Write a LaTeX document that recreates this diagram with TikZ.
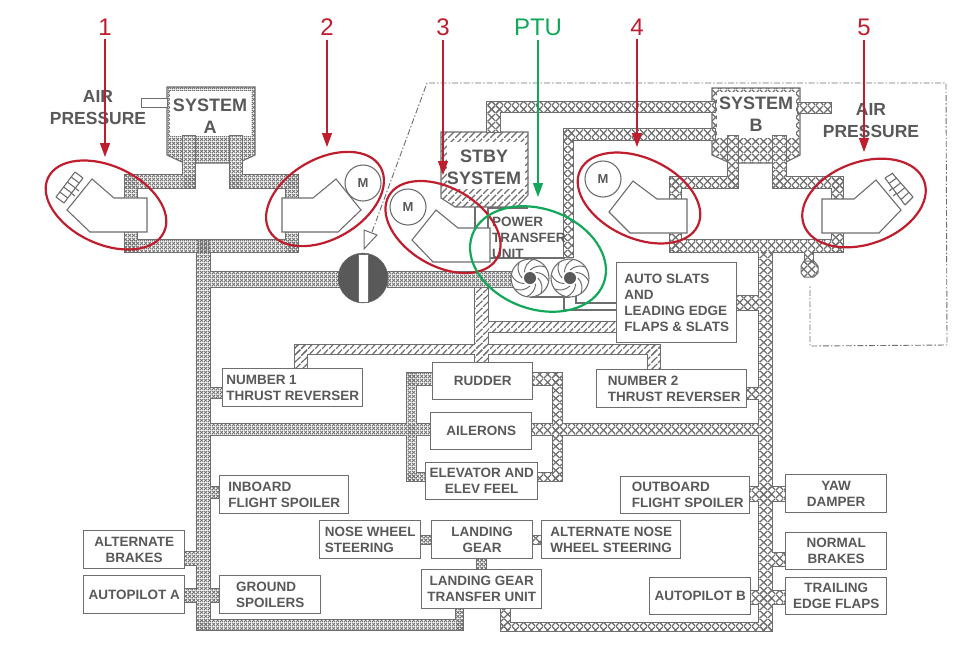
\documentclass[tikz,border=0pt]{standalone}
\usepackage{fontspec}
\setmainfont{Liberation Sans}
\usetikzlibrary{patterns,shapes.geometric,arrows.meta,calc}
\definecolor{ink}{HTML}{595959}
\definecolor{line}{HTML}{6E6E6E}
\definecolor{redm}{HTML}{BE1E2D}
\definecolor{greenm}{HTML}{12A85A}
\pgfdeclarepatternformonly{finex}{\pgfpointorigin}{\pgfqpoint{4pt}{4pt}}{\pgfqpoint{4pt}{4pt}}{%
 \pgfsetlinewidth{1pt}\pgfpathmoveto{\pgfpointorigin}\pgfpathlineto{\pgfqpoint{4pt}{4pt}}%
 \pgfpathmoveto{\pgfqpoint{0pt}{4pt}}\pgfpathlineto{\pgfqpoint{4pt}{0pt}}\pgfusepath{stroke}}
\pgfdeclarepatternformonly{coarsex}{\pgfpointorigin}{\pgfqpoint{8pt}{8pt}}{\pgfqpoint{8pt}{8pt}}{%
 \pgfsetlinewidth{1.3pt}\pgfpathmoveto{\pgfpointorigin}\pgfpathlineto{\pgfqpoint{8pt}{8pt}}%
 \pgfpathmoveto{\pgfqpoint{0pt}{8pt}}\pgfpathlineto{\pgfqpoint{8pt}{0pt}}\pgfusepath{stroke}}
\pgfdeclarepatternformonly{hatchx}{\pgfpointorigin}{\pgfqpoint{7pt}{7pt}}{\pgfqpoint{7pt}{7pt}}{%
 \pgfsetlinewidth{1.3pt}\pgfpathmoveto{\pgfpointorigin}\pgfpathlineto{\pgfqpoint{7pt}{7pt}}\pgfusepath{stroke}}
\tikzset{
 x=1pt,y=-1pt,
 flatbox/.style={draw=line,line width=1.3pt,fill=white,text=ink,font=\bfseries\fontsize{13.5}{16}\selectfont,anchor=north west,inner sep=0pt},
 tank/.style={text=ink,font=\bfseries\fontsize{18}{22}\selectfont,align=center,inner sep=0pt},
 air/.style={text=ink,font=\bfseries\fontsize{17.5}{22}\selectfont,align=center,inner sep=0pt},
 pumpbody/.style={draw=line,line width=1.1pt,fill=white},
 motor/.style={circle,draw=line,line width=1.1pt,fill=white,minimum size=36pt,inner sep=0pt,text=ink,font=\bfseries\fontsize{13}{15}\selectfont},
 redring/.style={ellipse,draw=redm,line width=2.2pt,inner sep=0pt},
 greenring/.style={ellipse,draw=greenm,line width=2.2pt,inner sep=0pt},
 redlabel/.style={text=redm,font=\fontsize{24}{28}\selectfont,inner sep=0pt},
 greenlabel/.style={text=greenm,font=\fontsize{24}{28}\selectfont,inner sep=0pt},
 redarrow/.style={draw=redm,line width=1.2pt,-{Triangle[length=14pt,width=10pt,fill=redm]}},
 greenarrow/.style={draw=greenm,line width=1.2pt,-{Triangle[length=14pt,width=10pt,fill=greenm]}},
 thin line/.style={draw=line,line width=1.1pt},
 dashframe/.style={draw=line,line width=0.9pt,dash pattern=on 6pt off 2pt on 1.5pt off 2pt},
 fanring/.style={circle,draw=line,line width=1.1pt,fill=white,minimum size=38pt,inner sep=0pt},
 fanhub/.style={circle,fill=ink,minimum size=12pt,inner sep=0pt},
}
% rectangle: name x y w h align text
\newcommand{\fbx}[7]{\node[flatbox,minimum width=#4pt,minimum height=#5pt,align=#6] (#1) at (#2,#3) {#7};}
% lists of pipe segments x0/y0/x1/y1
\def\pipesA{183/136/195/188,125/175/195/188,125/175/137/252,230/136/242/188,230/175/298/188,286/175/298/252,125/240/298/252,197/240/210/630,197/620/463/630,456/606/463/630,210/272/340/287,388/272/515/287,210/388/224/398,210/424/432/435,407/373/416/481,407/373/434/385,407/473/427/481,210/487/221/498,184/552/197/565,184/589/197/602,210/589/221/602,420/536/431/544,477/558/486/569}
\def\pipesB{728/136/738/188,670/177/738/188,773/136/786/188,773/177/843/188,670/177/681/252,832/177/843/252,670/240/843/252,759/252/772/631,501/623/772/631,501/606/510/631,736/296/759/310,749/487/785/501,772/553/785/566,750/591/785/604,531/424/759/435,553/373/562/481,530/373/562/385,535/473/562/481,532/536/541/544,745/388/759/399,487/102/500/132,487/102/715/112,564/129/715/140,564/129/573/257,798/103/831/113}
\def\pipesC{475/287/488/362,295/345/660/354,295/345/307/370,648/345/660/371,488/322/618/332}
\newcommand{\pipenet}[2]{%
 \foreach \a/\b/\c/\d in #1 {\fill[line] ({\a-1},{\b-1}) rectangle ({\c+1},{\d+1});}
 \foreach \a/\b/\c/\d in #1 {\fill[white] (\a,\b) rectangle (\c,\d);}
 \foreach \a/\b/\c/\d in #1 {\fill[pattern=#2,pattern color=line] (\a,\b) rectangle (\c,\d);}
}
\begin{document}
\begin{tikzpicture}
\useasboundingbox (0,0) rectangle (980,649);
\fill[white] (0,0) rectangle (980,649);
% dash-dot frame
\coordinate (fa) at (372,232);
\coordinate (fb) at (427,83);
\coordinate (fc) at (946,83);
\coordinate (fd) at (947,345);
\coordinate (fe) at (810,346);
\coordinate (ff) at (810,286);
\draw[dashframe] (fa) -- (fb) -- (fc) -- (fd) -- (fe) -- (ff);
% reservoirs
\draw[line,line width=1.1pt,pattern=finex,pattern color=line] (167,87) -- (255,87) -- (255,155) -- (238,163) -- (184,163) -- (167,155) -- cycle;
\fill[white] (170,91) rectangle (251,136);
\draw[line,line width=1.1pt,pattern=coarsex,pattern color=line] (712,88) -- (800,88) -- (800,155) -- (784,163) -- (730,163) -- (712,155) -- cycle;
\fill[white] (717,92) rectangle (796,138);
\draw[line,line width=1.1pt,pattern=hatchx,pattern color=line] (441,132) -- (528,132) -- (528,195) -- (517,207) -- (455,207) -- (441,198) -- cycle;
\fill[white] (447,142) rectangle (525,189);
\draw[thin line] (475,207) -- (475,230);
\draw[thin line] (488,207) -- (488,230);
\draw[thin line] (488,208) -- (528,208);
% pipes
\pipenet{\pipesC}{hatchx}
\pipenet{\pipesA}{finex}
\pipenet{\pipesB}{coarsex}
% air stub and filter
\node[draw=line,line width=1pt,fill=white,minimum width=26pt,minimum height=9pt,inner sep=0pt,anchor=north west] (airstub) at (141,98) {};
\fill[line] (804,252) rectangle (814,263);
\fill[white] (805,252) rectangle (813,263);
\fill[pattern=coarsex,pattern color=line] (805,252) rectangle (813,263);
\draw[line,line width=1pt,pattern=coarsex,pattern color=line] (804,261) -- (814,261) -- (818,266) -- (818,273) -- (814,277) -- (804,277) -- (801,273) -- (801,266) -- cycle;
% thin PTU lines
\coordinate (t1) at (490,258);
\coordinate (t2) at (565,258);
\coordinate (t3) at (530,297);
\coordinate (t4) at (570,297);
\coordinate (t5) at (564,297);
\coordinate (t6) at (564,310);
\coordinate (t7) at (617,310);
\coordinate (t8) at (576,294);
\coordinate (t9) at (576,303);
\coordinate (t10) at (617,303);
\draw[thin line] (t1) -- (t2);
\draw[thin line] (t3) -- (t4);
\draw[thin line] (t5) -- (t6) -- (t7);
\draw[thin line] (t8) -- (t9) -- (t10);
% pumps
\draw[pumpbody] (147,198) -- (147,232) -- (90,232) -- (67,210) -- (92,179) -- (114,198) -- cycle;
\draw[pumpbody] (282,198) -- (282,232) -- (338,232) -- (361,210) -- (336,179) -- (313,198) -- cycle;
\draw[pumpbody] (490,228) -- (490,262) -- (433,262) -- (412,240) -- (436,210) -- (458,228) -- cycle;
\draw[pumpbody] (687,199) -- (687,233) -- (630,233) -- (609,212) -- (633,181) -- (657,199) -- cycle;
\draw[pumpbody] (822,199) -- (822,233) -- (879,233) -- (901,210) -- (876,180) -- (854,199) -- cycle;
% fins pump 1
\foreach \i in {0,...,5} {\draw[thin line] ({56+3.8*\i},{197-5*\i}) -- ({64+3.8*\i},{203-5*\i});}
\draw[thin line] (56,197) -- (75,172);
\draw[thin line] (64,203) -- (83,178);
\draw[thin line] (75,188) -- (79,191);
\draw[thin line] (71,193) -- (75,196);
% fins pump 5
\foreach \i in {0,...,5} {\draw[thin line] ({905-4*\i},{205-5.4*\i}) -- ({913-4*\i},{197-4.8*\i});}
\draw[thin line] (905,205) -- (885,178);
\draw[thin line] (913,197) -- (892,173);
\draw[thin line] (893,188) -- (889,191);
\draw[thin line] (897,193) -- (893,196);
% motors
\node[motor] (m2) at (363,183) {M};
\node[motor] (m3) at (408,207) {M};
\node[motor] (m4) at (603,179) {M};
% valve
\node[circle,fill=ink,draw=line,minimum size=50pt,inner sep=0pt] (valve) at (363,278) {};
\fill[white] (358,254) rectangle (368,302);
\draw[line,line width=.8pt] (358,254) rectangle (368,302);
\draw[line,line width=1pt,fill=white] (364,230) -- (377,235) -- (364,249) -- cycle;
% PTU fans
\node[fanring] (fan1) at (530,278) {};
\node[fanring] (fan2) at (570,278) {};
\foreach \f in {fan1,fan2} {
 \foreach \ang in {0,45,...,315} {
  \draw[thin line,line width=1pt] ($(\f)+(\ang:8)$) to[bend left=30] ($(\f)+(\ang+55:19)$);
 }
}
\node[fanhub] at (fan1) {};
\node[fanhub] at (fan2) {};
% boxes
\fbx{nt1}{222}{368}{140}{38}{left}{NUMBER 1\\THRUST REVERSER}
\fbx{rud}{432}{362}{100}{37}{center}{RUDDER}
\fbx{ail}{430}{412}{101}{37}{center}{AILERONS}
\fbx{elv}{425}{462}{112}{37}{center}{ELEVATOR AND\\ELEV FEEL}
\fbx{nt2}{596}{369}{150}{38}{left}{\hspace*{5pt}NUMBER 2\\\hspace*{5pt}THRUST REVERSER}
\fbx{ibs}{219}{475}{129}{38}{left}{INBOARD\\FLIGHT SPOILER}
\fbx{nws}{319}{520}{101}{38}{left}{NOSE WHEEL\\STEERING}
\fbx{lgr}{431}{520}{101}{38}{center}{LANDING\\GEAR}
\fbx{lgt}{421}{569}{120}{39}{center}{LANDING GEAR\\TRANSFER UNIT}
\fbx{ans}{541}{520}{139}{38}{left}{ALTERNATE NOSE\\WHEEL STEERING}
\fbx{alb}{83}{530}{101}{38}{center}{ALTERNATE\\BRAKES}
\fbx{apa}{83}{575}{101}{38}{center}{AUTOPILOT A}
\fbx{gsp}{219}{575}{101}{38}{left}{GROUND\\SPOILERS}
\fbx{obs}{620}{476}{129}{37}{left}{\hspace*{5pt}OUTBOARD\\\hspace*{5pt}FLIGHT SPOILER}
\fbx{yaw}{785}{474}{101}{38}{center}{YAW\\DAMPER}
\fbx{nbr}{785}{532}{101}{37}{center}{NORMAL\\BRAKES}
\fbx{ted}{785}{577}{101}{37}{center}{TRAILING\\EDGE FLAPS}
\fbx{apb}{649}{577}{101}{37}{center}{AUTOPILOT B}
\fbx{asl}{616}{262}{120}{80}{left}{AUTO SLATS\\AND\\LEADING EDGE\\FLAPS \& SLATS}
% texts
\node[tank] (sysa) at (210,116) {SYSTEM\\A};
\node[tank] (sysb) at (756,114) {SYSTEM\\B};
\node[tank] (stby) at (484,167) {STBY\\SYSTEM};
\node[air] (air1) at (98,108) {AIR\\PRESSURE};
\node[air] (air2) at (871,121) {AIR\\PRESSURE};
\node[text=ink,font=\bfseries\fontsize{13.5}{16}\selectfont,align=left,inner sep=0pt,anchor=north west] (ptu) at (492,217) {POWER\\TRANSFER\\UNIT};
% rings
\node[redring,minimum width=128pt,minimum height=78pt,rotate=-25] (e1) at (106,205) {};
\node[redring,minimum width=128pt,minimum height=80pt,rotate=30] (e2) at (325,199) {};
\node[redring,minimum width=125pt,minimum height=78pt,rotate=-30] (e3) at (443,227) {};
\node[redring,minimum width=130pt,minimum height=80pt,rotate=-25] (e4) at (639,198) {};
\node[redring,minimum width=128pt,minimum height=82pt,rotate=20] (e5) at (864,203) {};
\node[greenring,minimum width=140pt,minimum height=100pt,rotate=-20] (e6) at (538,259) {};
% labels and arrows
\node[redlabel] (l1) at (105,27) {1};
\node[redlabel] (l2) at (327,27) {2};
\node[redlabel] (l3) at (443,27) {3};
\node[greenlabel] (l6) at (538,27) {PTU};
\node[redlabel] (l4) at (637,27) {4};
\node[redlabel] (l5) at (864,27) {5};
\coordinate (a1) at (105,157);
\coordinate (a2) at (327,147);
\coordinate (a3) at (443,175);
\coordinate (a6) at (538,197);
\coordinate (a4) at (637,147);
\coordinate (a5) at (864,152);
\draw[redarrow] ([yshift=-4pt]l1.south) -- (a1);
\draw[redarrow] ([yshift=-4pt]l2.south) -- (a2);
\draw[redarrow] ([yshift=-4pt]l3.south) -- (a3);
\draw[greenarrow] ([yshift=-4pt]l6.south) -- (a6);
\draw[redarrow] ([yshift=-4pt]l4.south) -- (a4);
\draw[redarrow] ([yshift=-4pt]l5.south) -- (a5);
\end{tikzpicture}
\end{document}
